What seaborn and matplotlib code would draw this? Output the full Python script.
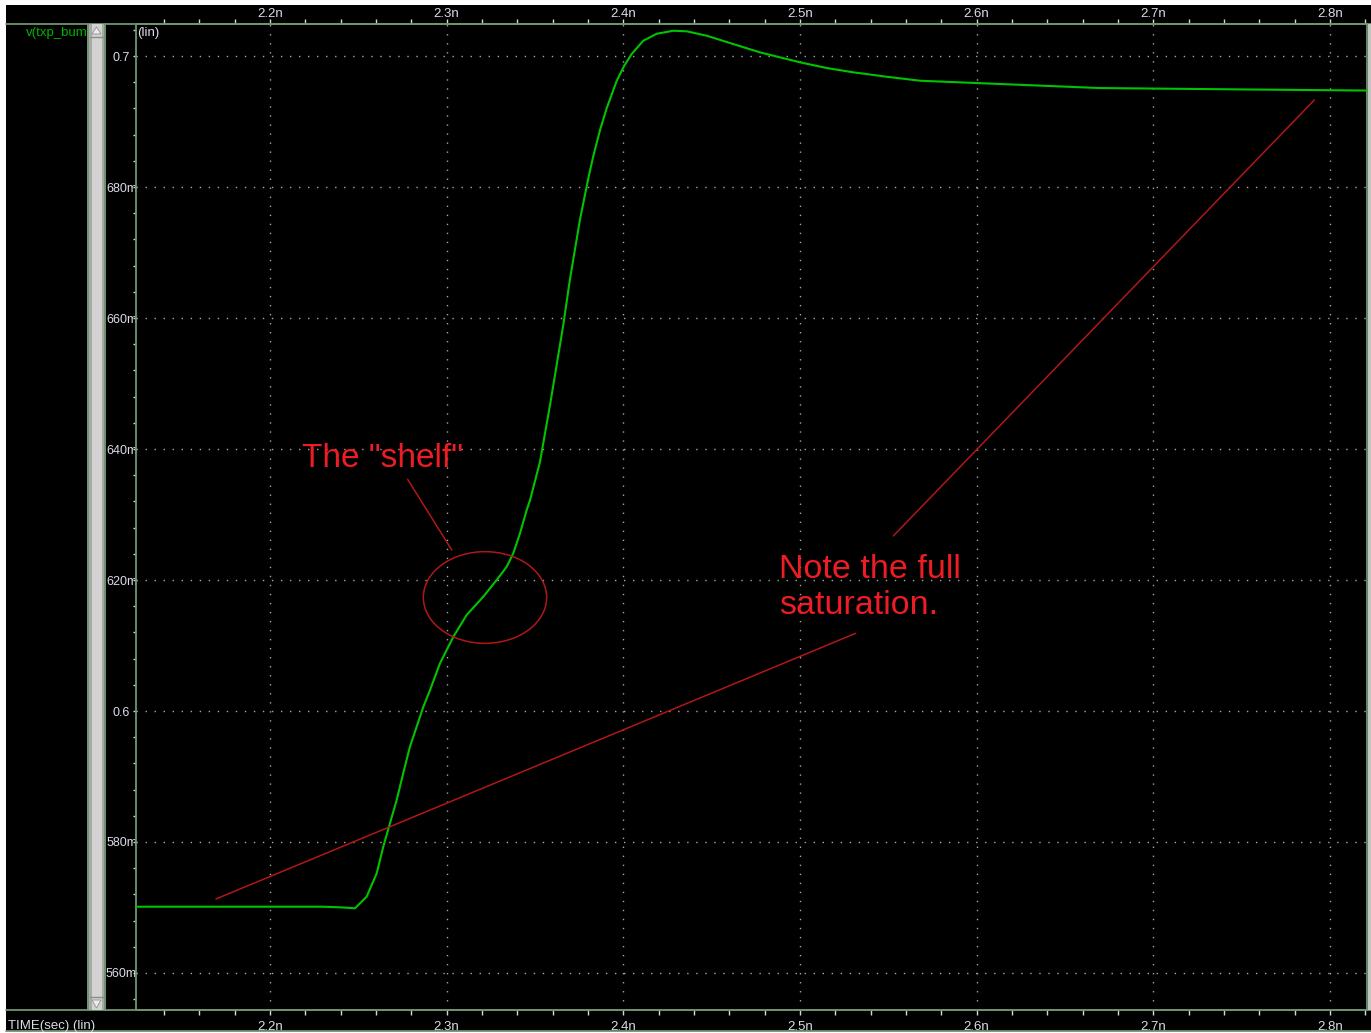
import numpy as np
import pandas as pd
import matplotlib
matplotlib.use("Agg")
import matplotlib.pyplot as plt
import matplotlib.ticker as mticker
from matplotlib.patches import Rectangle, Ellipse, Polygon
from matplotlib.lines import Line2D
import seaborn as sns

# ---------------- data ----------------
time_ns = [2.1242, 2.2300, 2.2400, 2.2481, 2.2547, 2.2604, 2.2641, 2.2679, 2.2717,
           2.2754, 2.2792, 2.2830, 2.2868, 2.2906, 2.2962, 2.3038, 2.3113, 2.3207,
           2.3283, 2.3340, 2.3377, 2.3415, 2.3453, 2.3472, 2.3528, 2.3585, 2.3660,
           2.3698, 2.3755, 2.3802, 2.3830, 2.3868, 2.3906, 2.3962, 2.4004, 2.4047,
           2.4113, 2.4189, 2.4283, 2.4359, 2.4472, 2.4622, 2.4773, 2.4925, 2.5000,
           2.5151, 2.5302, 2.5490, 2.5679, 2.6132, 2.6698, 2.7547, 2.8215]
voltage = [0.57012, 0.57012, 0.57002, 0.56988, 0.57165, 0.57522, 0.57928, 0.58285,
           0.58641, 0.59049, 0.59455, 0.59760, 0.60066, 0.60321, 0.60728, 0.61134,
           0.61466, 0.61745, 0.62000, 0.62203, 0.62408, 0.62713, 0.63069, 0.63221,
           0.63802, 0.64672, 0.65893, 0.66595, 0.67511, 0.68137, 0.68473, 0.68870,
           0.69206, 0.69618, 0.69847, 0.70031, 0.70234, 0.70340, 0.70386, 0.70377,
           0.70310, 0.70183, 0.70056, 0.69954, 0.69904, 0.69817, 0.69751, 0.69684,
           0.69623, 0.69573, 0.69511, 0.69489, 0.69473]

x_ticks = [2.2, 2.3, 2.4, 2.5, 2.6, 2.7, 2.8]
x_tick_labels = ["2.2n", "2.3n", "2.4n", "2.5n", "2.6n", "2.7n", "2.8n"]
y_ticks = [0.56, 0.58, 0.60, 0.62, 0.64, 0.66, 0.68, 0.70]
y_tick_labels = ["560m", "580m", "0.6", "620m", "640m", "660m", "680m", "0.7"]

signal_name = "v(txp_bump)"
x_axis_title = "TIME(sec) (lin)"
y_scale_label = "(lin)"
shelf_text = 'The "shelf"'
saturation_text = "Note the full\nsaturation."

# annotation anchors (data coordinates)
shelf_text_pos = (2.2179, 0.63725)
shelf_pointer = [(2.2779, 0.63537), (2.3029, 0.62458)]
shelf_ellipse = (2.3217, 0.61733, 0.0698, 0.0140)
sat_text_pos = (2.4883, 0.61481)   # baseline of the last line
sat_pointer_up = [(2.5528, 0.62672), (2.7911, 0.69328)]
sat_pointer_low = [(2.1694, 0.57130), (2.5315, 0.61186)]

# ---------------- style ----------------
sns.set_theme(style="dark")
plt.rcParams["font.family"] = ["Liberation Sans", "DejaVu Sans"]

W, H = 1371, 1033
fig = plt.figure(figsize=(W / 100, H / 100), dpi=100, facecolor="white")


def fx(px):
    return px / W


def fy(py):
    return 1 - py / H


FRAME = "#6e966e"
TXT = "#dcdcea"
RED_TXT = "#ee1c24"
RED_LN = "#b01818"
LBL = 9.5

# black screen background
fig.add_artist(Rectangle((fx(6), fy(1031)), 1 - fx(6), fy(5) - fy(1031),
                         transform=fig.transFigure, facecolor="black",
                         edgecolor="none", zorder=-5))

ax = fig.add_axes([fx(136), fy(1010), fx(1367) - fx(136), fy(24) - fy(1010)])
ax.set_facecolor("black")

df = pd.DataFrame({"t": time_ns, "v": voltage})
sns.lineplot(data=df, x="t", y="v", ax=ax, color="#00c400", linewidth=1.5,
             sort=False, estimator=None, zorder=4)

ax.set_xlim(2.12415, 2.82093)
ax.set_ylim(0.55435, 0.70489)
ax.set_xlabel("")
ax.set_ylabel("")

# x axis (bottom)
ax.set_xticks(x_ticks)
ax.set_xticklabels(x_tick_labels)
ax.xaxis.set_minor_locator(mticker.MultipleLocator(0.02))
ax.tick_params(axis="x", which="both", bottom=True, top=False, direction="out",
               length=3.6, width=1, color="#d8d8d8", labelcolor=TXT,
               labelsize=LBL, pad=4)

# x axis (top)
sec = ax.secondary_xaxis("top")
sec.set_xticks(x_ticks)
sec.set_xticklabels(x_tick_labels)
sec.xaxis.set_minor_locator(mticker.MultipleLocator(0.02))
sec.tick_params(axis="x", which="both", top=True, direction="out", length=3.6,
                width=1, color="#d8d8d8", labelcolor=TXT, labelsize=LBL, pad=-0.5)
for s in sec.spines.values():
    s.set_color(FRAME)
    s.set_linewidth(1.3)

# y axis
ax.set_yticks(y_ticks)
ax.set_yticklabels(y_tick_labels)
ax.yaxis.set_minor_locator(mticker.MultipleLocator(0.004))
ax.tick_params(axis="y", which="both", left=True, direction="out", length=2.2,
               width=1, color="#d8d8d8", labelcolor=TXT, labelsize=9, pad=8.2)
for lbl in ax.get_yticklabels():
    lbl.set_horizontalalignment("center")

ax.grid(True, which="major", color="#a8a8a8", linestyle=(0, (1, 5.5)),
        linewidth=1)
ax.grid(False, which="minor")

for s in ax.spines.values():
    s.set_visible(True)
    s.set_color(FRAME)
    s.set_linewidth(1.3)

ax.text(0.001, 0.9909, y_scale_label, transform=ax.transAxes, color=TXT,
        fontsize=LBL, ha="left", va="center", zorder=6)

# ---------------- annotations ----------------
ax.text(shelf_text_pos[0], shelf_text_pos[1], shelf_text, color=RED_TXT,
        fontsize=24, ha="left", va="baseline", zorder=6)
ax.annotate("", xy=shelf_pointer[1], xytext=shelf_pointer[0],
            arrowprops=dict(arrowstyle="-", color=RED_LN, lw=1.1,
                            shrinkA=0, shrinkB=0), zorder=5)
ax.add_patch(Ellipse((shelf_ellipse[0], shelf_ellipse[1]), shelf_ellipse[2],
                     shelf_ellipse[3], facecolor="none", edgecolor=RED_LN,
                     lw=1.1, zorder=5))
ax.text(sat_text_pos[0], sat_text_pos[1], saturation_text, color=RED_TXT,
        fontsize=24.5, ha="left", va="baseline", linespacing=1.2, zorder=6)
for seg in (sat_pointer_up, sat_pointer_low):
    ax.annotate("", xy=seg[1], xytext=seg[0],
                arrowprops=dict(arrowstyle="-", color=RED_LN, lw=1.1,
                                shrinkA=0, shrinkB=0), zorder=5)

# ---------------- window chrome ----------------
for py in (24, 1010, 1031):
    fig.add_artist(Line2D([fx(6), 1], [fy(py), fy(py)], transform=fig.transFigure,
                          color=FRAME, lw=1.3, zorder=3))

# signal name (partly hidden by the scroll bar)
fig.text(fx(26), fy(33), signal_name, color="#00b400", fontsize=LBL,
         ha="left", va="center", zorder=2)

# vertical scroll bar
fig.add_artist(Rectangle((fx(87), fy(1010)), fx(105) - fx(87), fy(24) - fy(1010),
                         transform=fig.transFigure, facecolor="#a8a8a8",
                         edgecolor="none", zorder=5))
fig.add_artist(Rectangle((fx(91.5), fy(1010)), fx(101.5) - fx(91.5), fy(24) - fy(1010),
                         transform=fig.transFigure, facecolor="#d2d2d2",
                         edgecolor="none", zorder=5))
for px in (88, 104.8):
    fig.add_artist(Line2D([fx(px), fx(px)], [fy(24), fy(1010)],
                          transform=fig.transFigure, color=FRAME, lw=1.4, zorder=6))
for py in (37, 997):
    fig.add_artist(Line2D([fx(90), fx(103.5)], [fy(py), fy(py)],
                          transform=fig.transFigure, color="#8c8c8c", lw=1, zorder=6))
fig.add_artist(Polygon([[fx(92), fy(34)], [fx(101), fy(34)], [fx(96.5), fy(27)]],
                       closed=True, transform=fig.transFigure, facecolor="#ececec",
                       edgecolor="#909090", lw=0.6, zorder=6))
fig.add_artist(Polygon([[fx(92), fy(1000)], [fx(101), fy(1000)], [fx(96.5), fy(1008)]],
                       closed=True, transform=fig.transFigure, facecolor="#ececec",
                       edgecolor="#909090", lw=0.6, zorder=6))

# right-hand grey strip
fig.add_artist(Rectangle((fx(1368), fy(1010)), 1 - fx(1368), fy(24) - fy(1010),
                         transform=fig.transFigure, facecolor="#c4c4c4",
                         edgecolor="none", zorder=5))

# x axis title in bottom bar
fig.text(fx(8), fy(1029), x_axis_title, color=TXT, fontsize=LBL,
         ha="left", va="baseline", zorder=6)

fig.savefig("out.png", dpi=100, facecolor=fig.get_facecolor())
